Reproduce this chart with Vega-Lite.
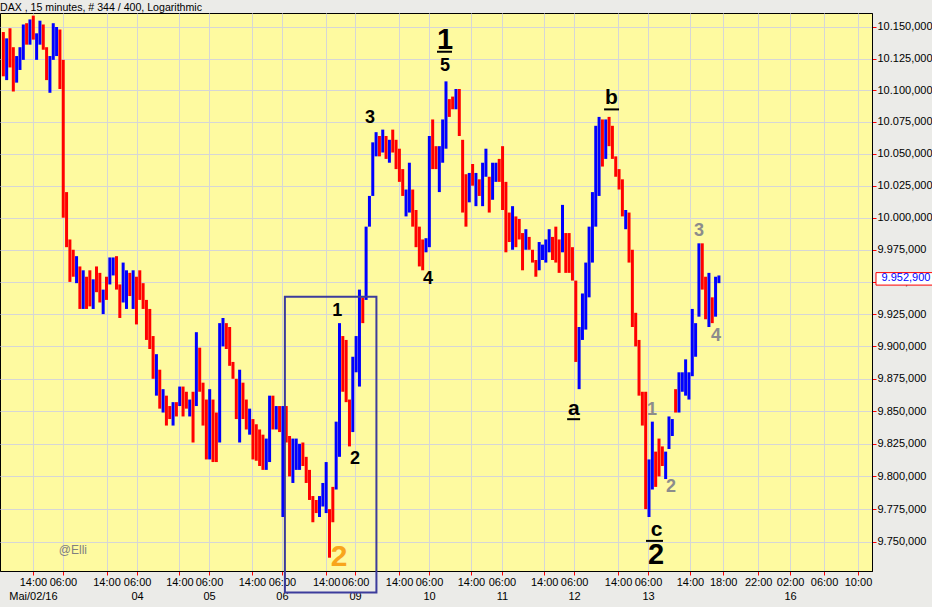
{
  "$schema": "https://vega.github.io/schema/vega-lite/v6.json",
  "width": 872,
  "height": 558,
  "autosize": {"type": "none"},
  "padding": {"left": 0, "top": 13, "right": 60, "bottom": 36},
  "background": "#ebebe8",
  "title": {"text": "DAX , 15 minutes, # 344 / 400, Logarithmic", "anchor": "start", "frame": "group", "fontSize": 10.6, "font": "Liberation Sans", "fontWeight": "normal", "color": "#000000", "offset": 0, "dy": 1},
  "config": {
    "view": {"fill": "#fefaa0", "stroke": "#000000", "strokeWidth": 1},
    "locale": {"number": {"decimal": ",", "thousands": ".", "grouping": [3], "currency": ["", ""]}},
    "axis": {"labelFont": "Liberation Sans", "labelFontSize": 11, "labelColor": "#000000", "tickColor": "#ff0000", "tickSize": 4, "domainColor": "#000000", "gridColor": "#d6d6d6", "grid": true, "labelOverlap": false, "labelFlush": false, "tickCount": 60}
  },
  "layer": [
    {
      "data": {"values": [
        {"t":0,"o":10144,"h":10146,"l":10111,"c":10113},{"t":1,"o":10110,"h":10141,"l":10108,"c":10139},{"t":2,"o":10147,"h":10149,"l":10118,"c":10120},{"t":3,"o":10132,"h":10134,"l":10099,"c":10101},{"t":4,"o":10108,"h":10127,"l":10106,"c":10125},{"t":5,"o":10118,"h":10134,"l":10116,"c":10132},{"t":6,"o":10126,"h":10152,"l":10124,"c":10150},{"t":7,"o":10151,"h":10153,"l":10136,"c":10138},{"t":8,"o":10138,"h":10156,"l":10136,"c":10154},{"t":9,"o":10157,"h":10159,"l":10140,"c":10142},
        {"t":10,"o":10126,"h":10145,"l":10124,"c":10143},{"t":11,"o":10138,"h":10155,"l":10136,"c":10153},{"t":12,"o":10150,"h":10152,"l":10132,"c":10134},{"t":13,"o":10132,"h":10134,"l":10108,"c":10110},{"t":14,"o":10100,"h":10127,"l":10098,"c":10125},{"t":15,"o":10126,"h":10153,"l":10124,"c":10151},{"t":16,"o":10129,"h":10150,"l":10127,"c":10148},{"t":17,"o":10146,"h":10148,"l":10101,"c":10103},{"t":18,"o":10122,"h":10124,"l":10000,"c":10002},{"t":19,"o":10018,"h":10020,"l":9977,"c":9979},
        {"t":20,"o":9981,"h":9983,"l":9950,"c":9952},{"t":21,"o":9973,"h":9975,"l":9954,"c":9956},{"t":22,"o":9951,"h":9970,"l":9949,"c":9968},{"t":23,"o":9960,"h":9962,"l":9929,"c":9931},{"t":24,"o":9931,"h":9959,"l":9929,"c":9957},{"t":25,"o":9952,"h":9954,"l":9929,"c":9931},{"t":26,"o":9957,"h":9959,"l":9931,"c":9933},{"t":27,"o":9931,"h":9952,"l":9929,"c":9950},{"t":28,"o":9960,"h":9962,"l":9942,"c":9944},{"t":29,"o":9955,"h":9957,"l":9934,"c":9936},
        {"t":30,"o":9927,"h":9944,"l":9925,"c":9942},{"t":31,"o":9952,"h":9954,"l":9936,"c":9938},{"t":32,"o":9950,"h":9969,"l":9948,"c":9967},{"t":33,"o":9957,"h":9969,"l":9955,"c":9967},{"t":34,"o":9968,"h":9970,"l":9944,"c":9946},{"t":35,"o":9946,"h":9948,"l":9922,"c":9924},{"t":36,"o":9936,"h":9965,"l":9934,"c":9963},{"t":37,"o":9931,"h":9959,"l":9929,"c":9957},{"t":38,"o":9955,"h":9957,"l":9939,"c":9941},{"t":39,"o":9931,"h":9959,"l":9929,"c":9957},
        {"t":40,"o":9952,"h":9954,"l":9917,"c":9919},{"t":41,"o":9957,"h":9959,"l":9936,"c":9938},{"t":42,"o":9947,"h":9949,"l":9929,"c":9931},{"t":43,"o":9934,"h":9936,"l":9905,"c":9907},{"t":44,"o":9927,"h":9929,"l":9898,"c":9900},{"t":45,"o":9906,"h":9908,"l":9875,"c":9877},{"t":46,"o":9864,"h":9894,"l":9862,"c":9892},{"t":47,"o":9880,"h":9882,"l":9852,"c":9854},{"t":48,"o":9851,"h":9867,"l":9849,"c":9865},{"t":49,"o":9860,"h":9862,"l":9839,"c":9841},
        {"t":50,"o":9852,"h":9854,"l":9844,"c":9846},{"t":51,"o":9841,"h":9857,"l":9839,"c":9855},{"t":52,"o":9855,"h":9857,"l":9846,"c":9848},{"t":53,"o":9856,"h":9869,"l":9854,"c":9867},{"t":54,"o":9867,"h":9869,"l":9846,"c":9848},{"t":55,"o":9863,"h":9865,"l":9852,"c":9854},{"t":56,"o":9848,"h":9859,"l":9846,"c":9857},{"t":57,"o":9863,"h":9865,"l":9826,"c":9828},{"t":58,"o":9856,"h":9911,"l":9854,"c":9909},{"t":59,"o":9897,"h":9899,"l":9865,"c":9867},
        {"t":60,"o":9870,"h":9872,"l":9839,"c":9841},{"t":61,"o":9857,"h":9859,"l":9813,"c":9815},{"t":62,"o":9815,"h":9867,"l":9813,"c":9865},{"t":63,"o":9857,"h":9859,"l":9811,"c":9813},{"t":64,"o":9847,"h":9849,"l":9811,"c":9813},{"t":65,"o":9828,"h":9918,"l":9826,"c":9916},{"t":66,"o":9902,"h":9922,"l":9900,"c":9920},{"t":67,"o":9916,"h":9918,"l":9898,"c":9900},{"t":68,"o":9913,"h":9915,"l":9885,"c":9887},{"t":69,"o":9886,"h":9888,"l":9875,"c":9877},
        {"t":70,"o":9873,"h":9875,"l":9844,"c":9846},{"t":71,"o":9828,"h":9882,"l":9826,"c":9880},{"t":72,"o":9870,"h":9872,"l":9844,"c":9846},{"t":73,"o":9857,"h":9859,"l":9836,"c":9838},{"t":74,"o":9834,"h":9852,"l":9832,"c":9850},{"t":75,"o":9842,"h":9844,"l":9813,"c":9815},{"t":76,"o":9838,"h":9840,"l":9812,"c":9814},{"t":77,"o":9834,"h":9836,"l":9808,"c":9810},{"t":78,"o":9830,"h":9832,"l":9805,"c":9807},{"t":79,"o":9807,"h":9829,"l":9805,"c":9827},
        {"t":80,"o":9813,"h":9862,"l":9811,"c":9860},{"t":81,"o":9860,"h":9862,"l":9836,"c":9838},{"t":82,"o":9838,"h":9854,"l":9836,"c":9852},{"t":83,"o":9852,"h":9854,"l":9834,"c":9836},{"t":84,"o":9771,"h":9854,"l":9769,"c":9852},{"t":85,"o":9852,"h":9854,"l":9826,"c":9828},{"t":86,"o":9829,"h":9831,"l":9800,"c":9802},{"t":87,"o":9797,"h":9829,"l":9795,"c":9827},{"t":88,"o":9807,"h":9829,"l":9805,"c":9827},{"t":89,"o":9807,"h":9825,"l":9805,"c":9823},
        {"t":90,"o":9824,"h":9826,"l":9808,"c":9810},{"t":91,"o":9813,"h":9815,"l":9795,"c":9797},{"t":92,"o":9803,"h":9805,"l":9782,"c":9784},{"t":93,"o":9783,"h":9785,"l":9765,"c":9767},{"t":94,"o":9780,"h":9782,"l":9772,"c":9774},{"t":95,"o":9771,"h":9785,"l":9769,"c":9783},{"t":96,"o":9779,"h":9795,"l":9777,"c":9793},{"t":97,"o":9774,"h":9811,"l":9772,"c":9809},{"t":98,"o":9773,"h":9775,"l":9738,"c":9740},{"t":99,"o":9790,"h":9792,"l":9765,"c":9767},
        {"t":100,"o":9792,"h":9842,"l":9790,"c":9840},{"t":101,"o":9817,"h":9918,"l":9815,"c":9916},{"t":102,"o":9906,"h":9908,"l":9865,"c":9867},{"t":103,"o":9903,"h":9905,"l":9857,"c":9859},{"t":104,"o":9857,"h":9859,"l":9823,"c":9825},{"t":105,"o":9836,"h":9892,"l":9834,"c":9890},{"t":106,"o":9882,"h":9908,"l":9880,"c":9906},{"t":107,"o":9871,"h":9944,"l":9869,"c":9942},{"t":108,"o":9936,"h":9938,"l":9918,"c":9920},{"t":109,"o":9938,"h":9993,"l":9936,"c":9991},
        {"t":110,"o":9995,"h":10017,"l":9993,"c":10015},{"t":111,"o":10019,"h":10059,"l":10017,"c":10057},{"t":112,"o":10050,"h":10067,"l":10048,"c":10065},{"t":113,"o":10062,"h":10064,"l":10048,"c":10050},{"t":114,"o":10053,"h":10069,"l":10051,"c":10067},{"t":115,"o":10062,"h":10064,"l":10046,"c":10048},{"t":116,"o":10045,"h":10061,"l":10043,"c":10059},{"t":117,"o":10067,"h":10069,"l":10051,"c":10053},{"t":118,"o":10059,"h":10061,"l":10038,"c":10040},{"t":119,"o":10052,"h":10054,"l":10028,"c":10030},
        {"t":120,"o":10036,"h":10038,"l":10017,"c":10019},{"t":121,"o":10003,"h":10022,"l":10001,"c":10020},{"t":122,"o":10006,"h":10043,"l":10004,"c":10041},{"t":123,"o":10020,"h":10022,"l":9993,"c":9995},{"t":124,"o":10004,"h":10006,"l":9977,"c":9979},{"t":125,"o":9991,"h":9993,"l":9962,"c":9964},{"t":126,"o":9981,"h":9983,"l":9959,"c":9961},{"t":127,"o":9975,"h":9984,"l":9973,"c":9982},{"t":128,"o":9979,"h":10064,"l":9977,"c":10062},{"t":129,"o":10075,"h":10077,"l":10038,"c":10040},
        {"t":130,"o":10054,"h":10056,"l":10038,"c":10040},{"t":131,"o":10022,"h":10056,"l":10020,"c":10054},{"t":132,"o":10045,"h":10077,"l":10043,"c":10075},{"t":133,"o":10056,"h":10107,"l":10054,"c":10105},{"t":134,"o":10091,"h":10093,"l":10079,"c":10081},{"t":135,"o":10093,"h":10095,"l":10085,"c":10087},{"t":136,"o":10087,"h":10101,"l":10085,"c":10099},{"t":137,"o":10099,"h":10101,"l":10064,"c":10066},{"t":138,"o":10059,"h":10061,"l":10004,"c":10006},{"t":139,"o":10032,"h":10034,"l":9993,"c":9995},
        {"t":140,"o":10014,"h":10035,"l":10012,"c":10033},{"t":141,"o":10040,"h":10042,"l":10025,"c":10027},{"t":142,"o":10011,"h":10035,"l":10009,"c":10033},{"t":143,"o":10028,"h":10030,"l":10017,"c":10019},{"t":144,"o":10011,"h":10043,"l":10009,"c":10041},{"t":145,"o":10034,"h":10054,"l":10032,"c":10052},{"t":146,"o":10030,"h":10032,"l":10004,"c":10006},{"t":147,"o":10016,"h":10043,"l":10014,"c":10041},{"t":148,"o":10030,"h":10043,"l":10028,"c":10041},{"t":149,"o":10044,"h":10046,"l":10028,"c":10030},
        {"t":150,"o":10054,"h":10056,"l":10006,"c":10008},{"t":151,"o":10026,"h":10028,"l":9973,"c":9975},{"t":152,"o":10002,"h":10004,"l":9981,"c":9983},{"t":153,"o":9977,"h":10009,"l":9975,"c":10007},{"t":154,"o":9999,"h":10001,"l":9977,"c":9979},{"t":155,"o":9997,"h":9999,"l":9983,"c":9985},{"t":156,"o":9986,"h":9988,"l":9959,"c":9961},{"t":157,"o":9977,"h":9991,"l":9975,"c":9989},{"t":158,"o":9983,"h":9985,"l":9975,"c":9977},{"t":159,"o":9973,"h":9975,"l":9965,"c":9967},
        {"t":160,"o":9965,"h":9967,"l":9954,"c":9956},{"t":161,"o":9961,"h":9981,"l":9959,"c":9979},{"t":162,"o":9969,"h":9979,"l":9967,"c":9977},{"t":163,"o":9967,"h":9983,"l":9965,"c":9981},{"t":164,"o":9975,"h":9991,"l":9973,"c":9989},{"t":165,"o":9983,"h":9985,"l":9967,"c":9969},{"t":166,"o":9991,"h":9993,"l":9965,"c":9967},{"t":167,"o":9981,"h":9983,"l":9957,"c":9959},{"t":168,"o":9975,"h":10010,"l":9973,"c":10008},{"t":169,"o":9986,"h":9988,"l":9957,"c":9959},
        {"t":170,"o":9986,"h":9988,"l":9957,"c":9959},{"t":171,"o":9975,"h":9977,"l":9951,"c":9953},{"t":172,"o":9949,"h":9951,"l":9888,"c":9890},{"t":173,"o":9869,"h":9915,"l":9867,"c":9913},{"t":174,"o":9907,"h":9941,"l":9905,"c":9939},{"t":175,"o":9915,"h":9965,"l":9913,"c":9963},{"t":176,"o":9940,"h":9993,"l":9938,"c":9991},{"t":177,"o":9967,"h":10020,"l":9965,"c":10018},{"t":178,"o":9995,"h":10072,"l":9993,"c":10070},{"t":179,"o":10019,"h":10079,"l":10017,"c":10077},
        {"t":180,"o":10075,"h":10077,"l":10040,"c":10042},{"t":181,"o":10048,"h":10077,"l":10046,"c":10075},{"t":182,"o":10077,"h":10079,"l":10056,"c":10058},{"t":183,"o":10070,"h":10072,"l":10046,"c":10048},{"t":184,"o":10046,"h":10048,"l":10032,"c":10034},{"t":185,"o":10036,"h":10038,"l":10022,"c":10024},{"t":186,"o":10028,"h":10030,"l":10001,"c":10003},{"t":187,"o":9993,"h":10006,"l":9991,"c":10004},{"t":188,"o":10002,"h":10004,"l":9965,"c":9967},{"t":189,"o":9973,"h":9975,"l":9915,"c":9917},
        {"t":190,"o":9924,"h":9926,"l":9900,"c":9902},{"t":191,"o":9903,"h":9905,"l":9862,"c":9864},{"t":192,"o":9863,"h":9865,"l":9839,"c":9841},{"t":193,"o":9863,"h":9865,"l":9775,"c":9777},{"t":194,"o":9771,"h":9813,"l":9769,"c":9811},{"t":195,"o":9792,"h":9842,"l":9790,"c":9840},{"t":196,"o":9817,"h":9819,"l":9792,"c":9794},{"t":197,"o":9827,"h":9829,"l":9800,"c":9802},{"t":198,"o":9821,"h":9823,"l":9808,"c":9810},{"t":199,"o":9800,"h":9819,"l":9798,"c":9817},
        {"t":200,"o":9823,"h":9846,"l":9821,"c":9844},{"t":201,"o":9833,"h":9844,"l":9831,"c":9842},{"t":202,"o":9865,"h":9867,"l":9849,"c":9851},{"t":203,"o":9851,"h":9880,"l":9849,"c":9878},{"t":204,"o":9867,"h":9880,"l":9865,"c":9878},{"t":205,"o":9864,"h":9890,"l":9862,"c":9888},{"t":206,"o":9861,"h":9880,"l":9859,"c":9878},{"t":207,"o":9879,"h":9929,"l":9877,"c":9927},{"t":208,"o":9894,"h":9918,"l":9892,"c":9916},{"t":209,"o":9925,"h":9980,"l":9923,"c":9978},
        {"t":210,"o":9978,"h":9980,"l":9944,"c":9946},{"t":211,"o":9952,"h":9954,"l":9921,"c":9923},{"t":212,"o":9917,"h":9957,"l":9915,"c":9955},{"t":213,"o":9936,"h":9938,"l":9918,"c":9920},{"t":214,"o":9925,"h":9954,"l":9923,"c":9952},{"t":215,"o":9950,"h":9955,"l":9949,"c":9952.9}
      ]},
      "mark": {"type": "rule", "strokeWidth": 3},
      "encoding": {
        "x": {"field": "t", "type": "quantitative", "title": null, "scale": {"domain": [-1, 261], "nice": false, "zero": false},
          "axis": {"orient": "bottom", "tickCount": 60, "values": [8.9,17.9,31,40.2,52.9,61.8,74.7,83.7,97,105.7,118.9,127.9,140.5,149.8,162.5,171.5,184.7,193.7,206.3,216.3,226.8,236.4,246.6,256.8],
            "labelExpr": "[['14:00','Mai/02/16'],'06:00','14:00',['06:00','04'],'14:00',['06:00','05'],'14:00',['06:00','06'],'14:00',['06:00','09'],'14:00',['06:00','10'],'14:00',['06:00','11'],'14:00',['06:00','12'],'14:00',['06:00','13'],'14:00','18:00','22:00',['02:00','16'],'06:00','10:00'][indexof([8.9,17.9,31,40.2,52.9,61.8,74.7,83.7,97,105.7,118.9,127.9,140.5,149.8,162.5,171.5,184.7,193.7,206.3,216.3,226.8,236.4,246.6,256.8], datum.value)]",
            "labelOverlap": false, "labelFlush": false, "labelBaseline": "top", "labelPadding": 1, "labelLineHeight": 14, "labelAlign": "center"}},
        "y": {"field": "l", "type": "quantitative", "title": null, "scale": {"type": "log", "domain": [9727.9, 10161.1], "nice": false},
          "axis": {"orient": "right", "tickCount": 60, "values": [9750,9775,9800,9825,9850,9875,9900,9925,9950,9975,10000,10025,10050,10075,10100,10125,10150], "format": ",.3f", "labelOverlap": false, "labelFlush": false, "labelPadding": 1, "labelAlign": "left", "labelBaseline": "middle"}},
        "y2": {"field": "h"},
        "stroke": {"condition": {"test": "datum.c < datum.o", "value": "#ff0000"}, "value": "#0000ff"}
      }
    },
    {
      "data": {"values": [{"t1": 84.6, "t2": 112.1, "p1": 9938.5, "p2": 9711.6}]},
      "mark": {"type": "rect", "fillOpacity": 0, "stroke": "#3c3c9c", "strokeWidth": 2},
      "encoding": {
        "x": {"field": "t1", "type": "quantitative", "title": null, "scale": {"domain": [-1, 261], "nice": false, "zero": false}},
        "x2": {"field": "t2"},
        "y": {"field": "p1", "type": "quantitative", "title": null, "scale": {"type": "log", "domain": [9727.9, 10161.1], "nice": false}},
        "y2": {"field": "p2"}
      }
    },
    {
      "data": {"values": [{"t1": 130.3, "t2": 134.8, "p": 10130.4}, {"t1": 180.5, "t2": 185, "p": 10084.9}, {"t1": 169.4, "t2": 173.3, "p": 9843.9}, {"t1": 193.1, "t2": 198.2, "p": 9750.8}]},
      "mark": {"type": "rule", "stroke": "#000000", "strokeWidth": 2},
      "encoding": {
        "x": {"field": "t1", "type": "quantitative", "title": null, "scale": {"domain": [-1, 261], "nice": false, "zero": false}},
        "x2": {"field": "t2"},
        "y": {"field": "p", "type": "quantitative", "title": null, "scale": {"type": "log", "domain": [9727.9, 10161.1], "nice": false}}
      }
    },
    {
      "data": {"values": [{"t": 110.2, "p": 10077.8, "s": "3"}, {"t": 127.6, "p": 9952.3, "s": "4"}, {"t": 100.3, "p": 9927.7, "s": "1"}, {"t": 105.7, "p": 9813.1, "s": "2"}, {"t": 132.7, "p": 10119, "s": "5"}]},
      "mark": {"type": "text", "font": "Liberation Sans", "fontWeight": "bold", "fontSize": 18, "color": "#000000", "align": "center", "baseline": "middle"},
      "encoding": {
        "x": {"field": "t", "type": "quantitative", "title": null, "scale": {"domain": [-1, 261], "nice": false, "zero": false}},
        "y": {"field": "p", "type": "quantitative", "title": null, "scale": {"type": "log", "domain": [9727.9, 10161.1], "nice": false}},
        "text": {"field": "s"}
      }
    },
    {
      "data": {"values": [{"t": 194.9, "p": 9850.8, "s": "1"}, {"t": 200.6, "p": 9791.6, "s": "2"}, {"t": 209, "p": 9989.9, "s": "3"}, {"t": 214.1, "p": 9907.7, "s": "4"}]},
      "mark": {"type": "text", "font": "Liberation Sans", "fontWeight": "bold", "fontSize": 18, "color": "#8c8c8c", "align": "center", "baseline": "middle"},
      "encoding": {
        "x": {"field": "t", "type": "quantitative", "title": null, "scale": {"domain": [-1, 261], "nice": false, "zero": false}},
        "y": {"field": "p", "type": "quantitative", "title": null, "scale": {"type": "log", "domain": [9727.9, 10161.1], "nice": false}},
        "text": {"field": "s"}
      }
    },
    {
      "data": {"values": [{"t": 132.7, "p": 10139.8, "s": "1"}, {"t": 196.1, "p": 9740, "s": "2"}]},
      "mark": {"type": "text", "font": "Liberation Sans", "fontWeight": "bold", "fontSize": 29, "color": "#000000", "align": "center", "baseline": "middle"},
      "encoding": {
        "x": {"field": "t", "type": "quantitative", "title": null, "scale": {"domain": [-1, 261], "nice": false, "zero": false}},
        "y": {"field": "p", "type": "quantitative", "title": null, "scale": {"type": "log", "domain": [9727.9, 10161.1], "nice": false}},
        "text": {"field": "s"}
      }
    },
    {
      "data": {"values": [{"t": 182.7, "p": 10094, "s": "b"}, {"t": 171.4, "p": 9851.6, "s": "a"}, {"t": 196.3, "p": 9759.3, "s": "c"}]},
      "mark": {"type": "text", "font": "Liberation Sans", "fontWeight": "bold", "fontSize": 21, "color": "#000000", "align": "center", "baseline": "middle"},
      "encoding": {
        "x": {"field": "t", "type": "quantitative", "title": null, "scale": {"domain": [-1, 261], "nice": false, "zero": false}},
        "y": {"field": "p", "type": "quantitative", "title": null, "scale": {"type": "log", "domain": [9727.9, 10161.1], "nice": false}},
        "text": {"field": "s"}
      }
    },
    {
      "data": {"values": [{"t": 100.9, "p": 9738.5, "s": "2"}]},
      "mark": {"type": "text", "font": "Liberation Sans", "fontWeight": "bold", "fontSize": 30, "color": "#f8a51c", "align": "center", "baseline": "middle"},
      "encoding": {
        "x": {"field": "t", "type": "quantitative", "title": null, "scale": {"domain": [-1, 261], "nice": false, "zero": false}},
        "y": {"field": "p", "type": "quantitative", "title": null, "scale": {"type": "log", "domain": [9727.9, 10161.1], "nice": false}},
        "text": {"field": "s"}
      }
    },
    {
      "data": {"values": [{"t": 20.9, "p": 9744, "s": "@Elli"}]},
      "mark": {"type": "text", "font": "Liberation Sans", "fontSize": 12, "color": "#808080", "align": "center", "baseline": "middle"},
      "encoding": {
        "x": {"field": "t", "type": "quantitative", "title": null, "scale": {"domain": [-1, 261], "nice": false, "zero": false}},
        "y": {"field": "p", "type": "quantitative", "title": null, "scale": {"type": "log", "domain": [9727.9, 10161.1], "nice": false}},
        "text": {"field": "s"}
      }
    },
    {
      "data": {"values": [{"t1": 262.2, "t2": 281, "p1": 9947.5, "p2": 9957.2}]},
      "mark": {"type": "rect", "fill": "#ffffff", "stroke": "#ff0000", "strokeWidth": 1},
      "encoding": {
        "x": {"field": "t1", "type": "quantitative", "title": null, "scale": {"domain": [-1, 261], "nice": false, "zero": false}},
        "x2": {"field": "t2"},
        "y": {"field": "p1", "type": "quantitative", "title": null, "scale": {"type": "log", "domain": [9727.9, 10161.1], "nice": false}},
        "y2": {"field": "p2"}
      }
    },
    {
      "data": {"values": [{"t": 271.2, "p": 9952.9}]},
      "mark": {"type": "text", "font": "Liberation Sans", "fontSize": 11, "color": "#0000ff", "align": "center", "baseline": "middle"},
      "encoding": {
        "x": {"field": "t", "type": "quantitative", "title": null, "scale": {"domain": [-1, 261], "nice": false, "zero": false}},
        "y": {"field": "p", "type": "quantitative", "title": null, "scale": {"type": "log", "domain": [9727.9, 10161.1], "nice": false}},
        "text": {"field": "p", "format": ",.3f"}
      }
    }
  ]
}
